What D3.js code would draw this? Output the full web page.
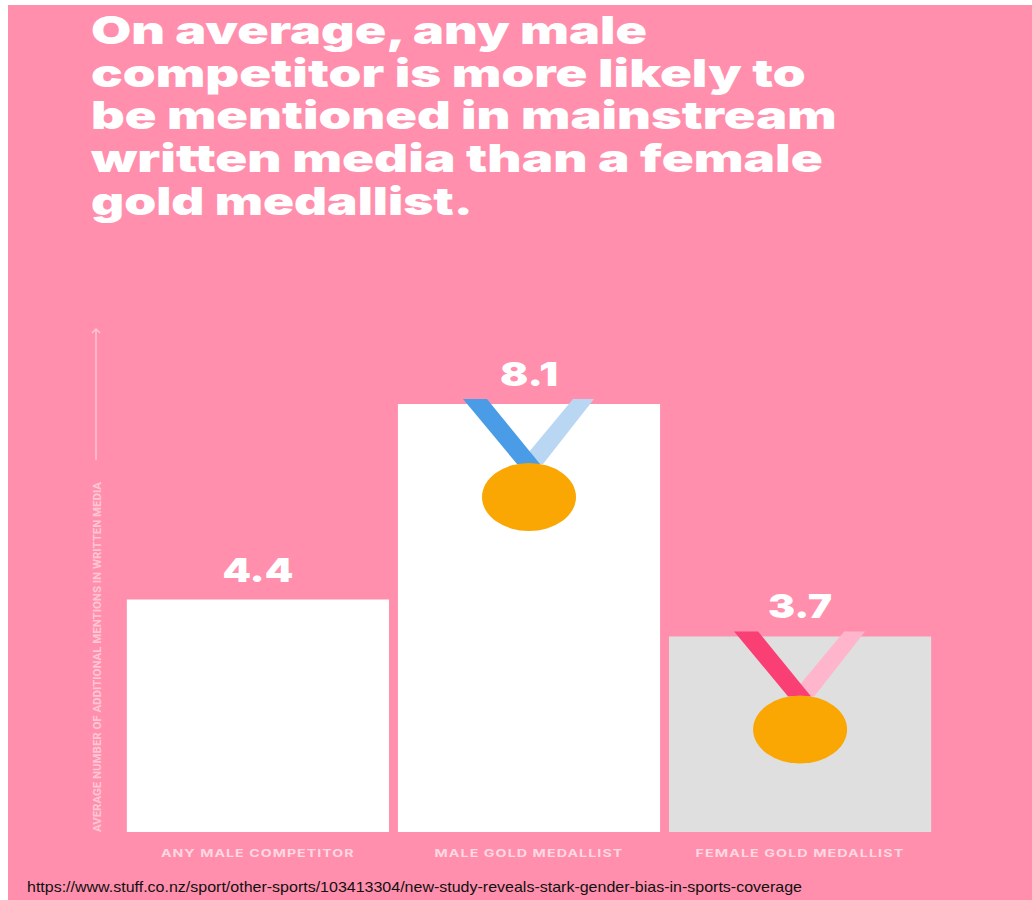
<!DOCTYPE html>
<html>
<head>
<meta charset="utf-8">
<script src="https://cdn.jsdelivr.net/npm/d3@7"></script>
<style>
html,body{margin:0;padding:0;background:#fff}
svg{display:block}
</style>
</head>
<body>
<svg id="chart" width="1032" height="900"></svg>
<script>
// Chart content
const categories = ["ANY MALE COMPETITOR", "MALE GOLD MEDALLIST", "FEMALE GOLD MEDALLIST"];
const mentions = [4.4, 8.1, 3.7];
const barColors = ["#ffffff", "#ffffff", "#dfdfdf"];
const ribbonFront = [null, "#4a9ce6", "#f93f74"];
const ribbonBack = [null, "#b9d6f3", "#ffb5cb"];
const titleLines = [
  "On average, any male",
  "competitor is more likely to",
  "be mentioned in mainstream",
  "written media than a female",
  "gold medallist."
];
const axisTitle = "AVERAGE NUMBER OF ADDITIONAL MENTIONS IN WRITTEN MEDIA";
const sourceLine = "https://www.stuff.co.nz/sport/other-sports/103413304/new-study-reveals-stark-gender-bias-in-sports-coverage";

const svg = d3.select("#chart");
const PINK = "#ff8fad";
const HEAD = "Inter, 'Open Sans', sans-serif";

svg.append("rect").attr("x", 8).attr("y", 5).attr("width", 1024).attr("height", 895).attr("fill", PINK);

// Horizontally stretched text: glyphs are widened to reach a target width
function stretched(sel, width) {
  sel.each(function () {
    const natural = this.getComputedTextLength();
    const x = +this.getAttribute("data-x"), y = +this.getAttribute("data-y");
    const anchor = this.getAttribute("data-anchor") || "start";
    const k = width / natural;
    const left = anchor === "middle" ? x - width / 2 : x;
    this.setAttribute("transform", `translate(${left},${y}) scale(${k},1)`);
  });
}

// Headline
const titleWidths = [556, 715, 746, 732, 382];
const titleBase = d3.scaleLinear().domain([0, 4]).range([44, 214.5]);
titleLines.forEach((line, i) => {
  svg.append("text").text(line)
    .attr("data-x", 91).attr("data-y", titleBase(i))
    .attr("font-family", HEAD).attr("font-weight", 900).attr("font-size", 38.5)
    .attr("fill", "#ffffff")
    .call(stretched, titleWidths[i]);
});

// Scales
const x = d3.scaleBand().domain(categories).range([122.5, 935.5]).paddingInner(0.033).paddingOuter(0.016);
const y = d3.scaleLinear().domain([0, 8.1]).range([832, 404]);

// Bars
svg.selectAll("rect.bar").data(categories).join("rect").attr("class", "bar")
  .attr("x", d => x(d)).attr("width", x.bandwidth())
  .attr("y", (d, i) => y(mentions[i]))
  .attr("height", (d, i) => y(0) - y(mentions[i]))
  .attr("fill", (d, i) => barColors[i]);

// Medals hang from the top of the medallist bars
categories.forEach((c, i) => {
  if (!ribbonFront[i]) return;
  const g = svg.append("g")
    .attr("transform", `translate(${x(c) + x.bandwidth() / 2},${y(mentions[i])})`);
  const poly = d3.line();
  g.append("path").attr("fill", ribbonBack[i])
    .attr("d", poly([[44, -5], [65, -5], [14, 60], [-10, 60]]) + "Z");
  g.append("path").attr("fill", ribbonFront[i])
    .attr("d", poly([[-66, -5], [-42, -5], [11, 60], [-12, 60]]) + "Z");
  g.append("ellipse").attr("cx", 0).attr("cy", 93).attr("rx", 47).attr("ry", 34).attr("fill", "#faa603");
});

// Value labels
const valueWidths = [71, 58, 64];
categories.forEach((c, i) => {
  svg.append("text").text(mentions[i].toFixed(1))
    .attr("data-x", x(c) + x.bandwidth() / 2).attr("data-y", y(mentions[i]) - 18)
    .attr("data-anchor", "middle")
    .attr("font-family", HEAD).attr("font-weight", 900).attr("font-size", 33)
    .attr("fill", "#ffffff")
    .call(stretched, valueWidths[i]);
});

// Category labels
const labelWidths = [194, 189, 209];
categories.forEach((c, i) => {
  svg.append("text").text(c)
    .attr("data-x", x(c) + x.bandwidth() / 2).attr("data-y", 857)
    .attr("data-anchor", "middle")
    .attr("font-family", HEAD).attr("font-weight", 700).attr("font-size", 10.5)
    .attr("letter-spacing", 0.8)
    .attr("fill", "#ffffff").attr("fill-opacity", 0.66)
    .call(stretched, labelWidths[i]);
});

// Vertical axis title and arrow
svg.append("text").text(axisTitle)
  .attr("transform", "translate(101,832) rotate(-90)")
  .attr("font-family", "Roboto, sans-serif").attr("font-weight", 700).attr("font-size", 11.5)
  .attr("fill", "#ffffff").attr("fill-opacity", 0.5)
  .attr("textLength", 350).attr("lengthAdjust", "spacingAndGlyphs");
const arrow = d3.path();
arrow.moveTo(96, 460); arrow.lineTo(96, 329);
arrow.moveTo(92, 333); arrow.lineTo(96, 329); arrow.lineTo(100, 333);
svg.append("path").attr("d", arrow.toString()).attr("fill", "none")
  .attr("stroke", "#ffffff").attr("stroke-opacity", 0.5).attr("stroke-width", 1.4);

// Source line
svg.append("text").text(sourceLine)
  .attr("x", 27).attr("y", 892)
  .attr("font-family", "'Liberation Sans', Arial, sans-serif").attr("font-size", 14.4)
  .attr("fill", "#111111")
  .attr("textLength", 775).attr("lengthAdjust", "spacingAndGlyphs");
</script>
</body>
</html>
